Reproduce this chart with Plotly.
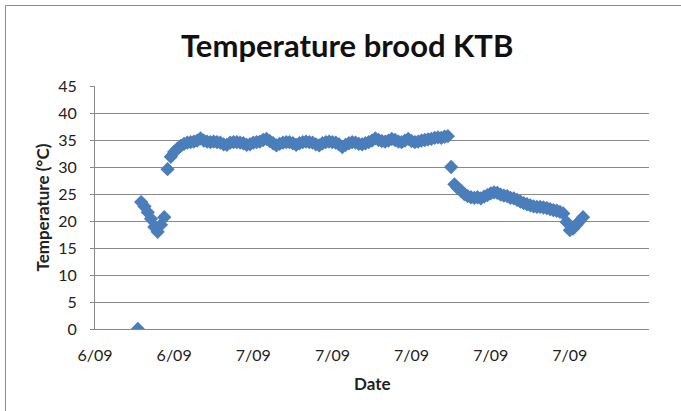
import pandas as pd
import plotly.graph_objects as go

# Logger readings: hours after 6 Sep 00:00 and brood temperature (°C)
hours = [
    17.0, 17.2, 17.4, 17.6, 17.8, 18.0, 18.2, 18.4, 18.6, 18.8,
    19.0, 19.2, 19.4, 19.6, 19.8, 20.0, 20.2, 20.4, 20.6, 20.8,
    21.0, 21.2, 21.4, 21.6, 21.8, 22.0, 22.2, 22.4, 22.6, 22.8,
    23.0, 23.2, 23.4, 23.6, 23.8, 24.0, 24.2, 24.4, 24.6, 24.8,
    25.0, 25.2, 25.4, 25.6, 25.8, 26.0, 26.2, 26.4, 26.6, 26.8,
    27.0, 27.2, 27.4, 27.6, 27.8, 28.0, 28.2, 28.4, 28.6, 28.8,
    29.0, 29.2, 29.4, 29.6, 29.8, 30.0, 30.2, 30.4, 30.6, 30.8,
    31.0, 31.2, 31.4, 31.6, 31.8, 32.0, 32.2, 32.4, 32.6, 32.8,
    33.0, 33.2, 33.4, 33.6, 33.8, 34.0, 34.2, 34.4, 34.6, 34.8,
    35.0, 35.2, 35.4, 35.6, 35.8, 36.0, 36.2, 36.4, 36.6, 36.8,
    37.0, 37.2, 37.4, 37.6, 37.8, 38.0, 38.2, 38.4, 38.6, 38.8,
    39.0, 39.2, 39.4, 39.6, 39.8, 40.0, 40.2, 40.4, 40.6, 40.8,
    41.0, 41.2, 41.4, 41.6, 41.8, 42.0, 42.2, 42.4, 42.6, 42.8,
    43.0, 43.2, 43.4, 43.6, 43.8, 44.0,
]
temps = [
    0.0, 23.5, 22.7, 21.6, 20.4, 18.9, 18.0, 19.3, 20.7, 29.6,
    31.9, 32.8, 33.4, 33.9, 34.3, 34.5, 34.6, 34.7, 34.9, 35.3,
    34.9, 34.7, 34.6, 34.7, 34.6, 34.5, 34.2, 34.1, 34.5, 34.6,
    34.6, 34.5, 34.4, 34.1, 34.2, 34.5, 34.6, 34.7, 35.0, 35.2,
    34.8, 34.4, 34.0, 34.3, 34.5, 34.6, 34.6, 34.4, 34.1, 34.4,
    34.6, 34.7, 34.6, 34.5, 34.2, 34.0, 34.4, 34.6, 34.7, 34.6,
    34.5, 34.2, 33.7, 34.1, 34.4, 34.6, 34.5, 34.3, 34.2, 34.4,
    34.6, 34.9, 35.3, 35.0, 34.8, 34.7, 34.9, 35.2, 35.0, 34.7,
    34.6, 34.9, 35.2, 34.8, 34.6, 34.7, 34.9, 35.0, 35.1, 35.2,
    35.4, 35.5, 35.4, 35.6, 35.7, 30.0, 26.8, 26.1, 25.6, 25.0,
    24.6, 24.4, 24.3, 24.4, 24.2, 24.5, 24.8, 25.1, 25.3, 25.2,
    24.9, 24.7, 24.6, 24.3, 24.2, 23.9, 23.6, 23.3, 23.1, 22.9,
    22.7, 22.6, 22.6, 22.5, 22.4, 22.2, 22.0, 21.9, 21.7, 21.4,
    19.8, 18.3, 18.6, 19.3, 20.0, 20.7,
]

day0 = pd.Timestamp("2014-09-06 00:00")
times = day0 + pd.to_timedelta(hours, unit="h")

x_start = "2014-09-06 14:24"
x_end = "2014-09-08 00:00"
tick_vals = pd.date_range(x_start, periods=7, freq="288min")

y_ticks = [0, 5, 10, 15, 20, 25, 30, 35, 40, 45]

title_text = "Temperature brood KTB"
x_title = "Date"
y_title = "Temperature (°C)"

FONT = "Lato, 'Open Sans', sans-serif"
GRID = "#898989"
BLUE = "#4A7EBB"

fig = go.Figure()
fig.add_trace(go.Scatter(
    x=times, y=temps, mode="markers",
    marker=dict(symbol="diamond", size=11, color=BLUE, line=dict(width=0)),
    showlegend=False,
))

W, H = 681, 411
L, R, T, B = 95, 32, 86, 82
pw, ph = W - L - R, H - T - B

def px(x):
    return (x - L) / pw

def py(y):
    return (H - B - y) / ph

fig.update_layout(
    width=W, height=H,
    margin=dict(l=L, r=R, t=T, b=B, pad=0),
    paper_bgcolor="white", plot_bgcolor="white",
    font=dict(family=FONT, color="#222222"),
    xaxis=dict(
        type="date", range=[x_start, x_end],
        tickmode="array", tickvals=tick_vals, tickformat="%-d/%m",
        tickfont=dict(size=16, color="#222222"),
        showgrid=False, zeroline=False,
        showline=True, linecolor=GRID, linewidth=1,
        ticks="", ticklabelstandoff=12,
    ),
    yaxis=dict(
        range=[0, 45], tickmode="array", tickvals=y_ticks,
        tickfont=dict(size=16, color="#222222"),
        showgrid=True, gridcolor=GRID, gridwidth=1,
        zeroline=False, showline=True, linecolor=GRID, linewidth=1,
        ticks="outside", ticklen=4, tickcolor=GRID, ticklabelstandoff=10,
    ),
    annotations=[
        dict(text="<b>%s</b>" % title_text, x=px(347), y=py(45),
             xref="paper", yref="paper", showarrow=False,
             font=dict(size=31, family=FONT, color="#111111"),
             xanchor="center", yanchor="middle"),
        dict(text="<b>%s</b>" % x_title, x=px(372), y=py(383),
             xref="paper", yref="paper", showarrow=False,
             font=dict(size=17, family=FONT, color="#222222"),
             xanchor="center", yanchor="middle"),
        dict(text="<b>%s</b>" % y_title, x=px(42), y=py(207.5),
             xref="paper", yref="paper", showarrow=False, textangle=-90,
             font=dict(size=17, family=FONT, color="#222222"),
             xanchor="center", yanchor="middle"),
    ],
    shapes=[
        dict(type="line", xref="paper", yref="paper",
             x0=px(5.5), x1=px(5.5), y0=py(411), y1=py(5.5),
             line=dict(color="#8c8c8c", width=1)),
        dict(type="line", xref="paper", yref="paper",
             x0=px(5.5), x1=px(681), y0=py(5.5), y1=py(5.5),
             line=dict(color="#8c8c8c", width=1)),
    ],
)

fig.write_html("out.html")
